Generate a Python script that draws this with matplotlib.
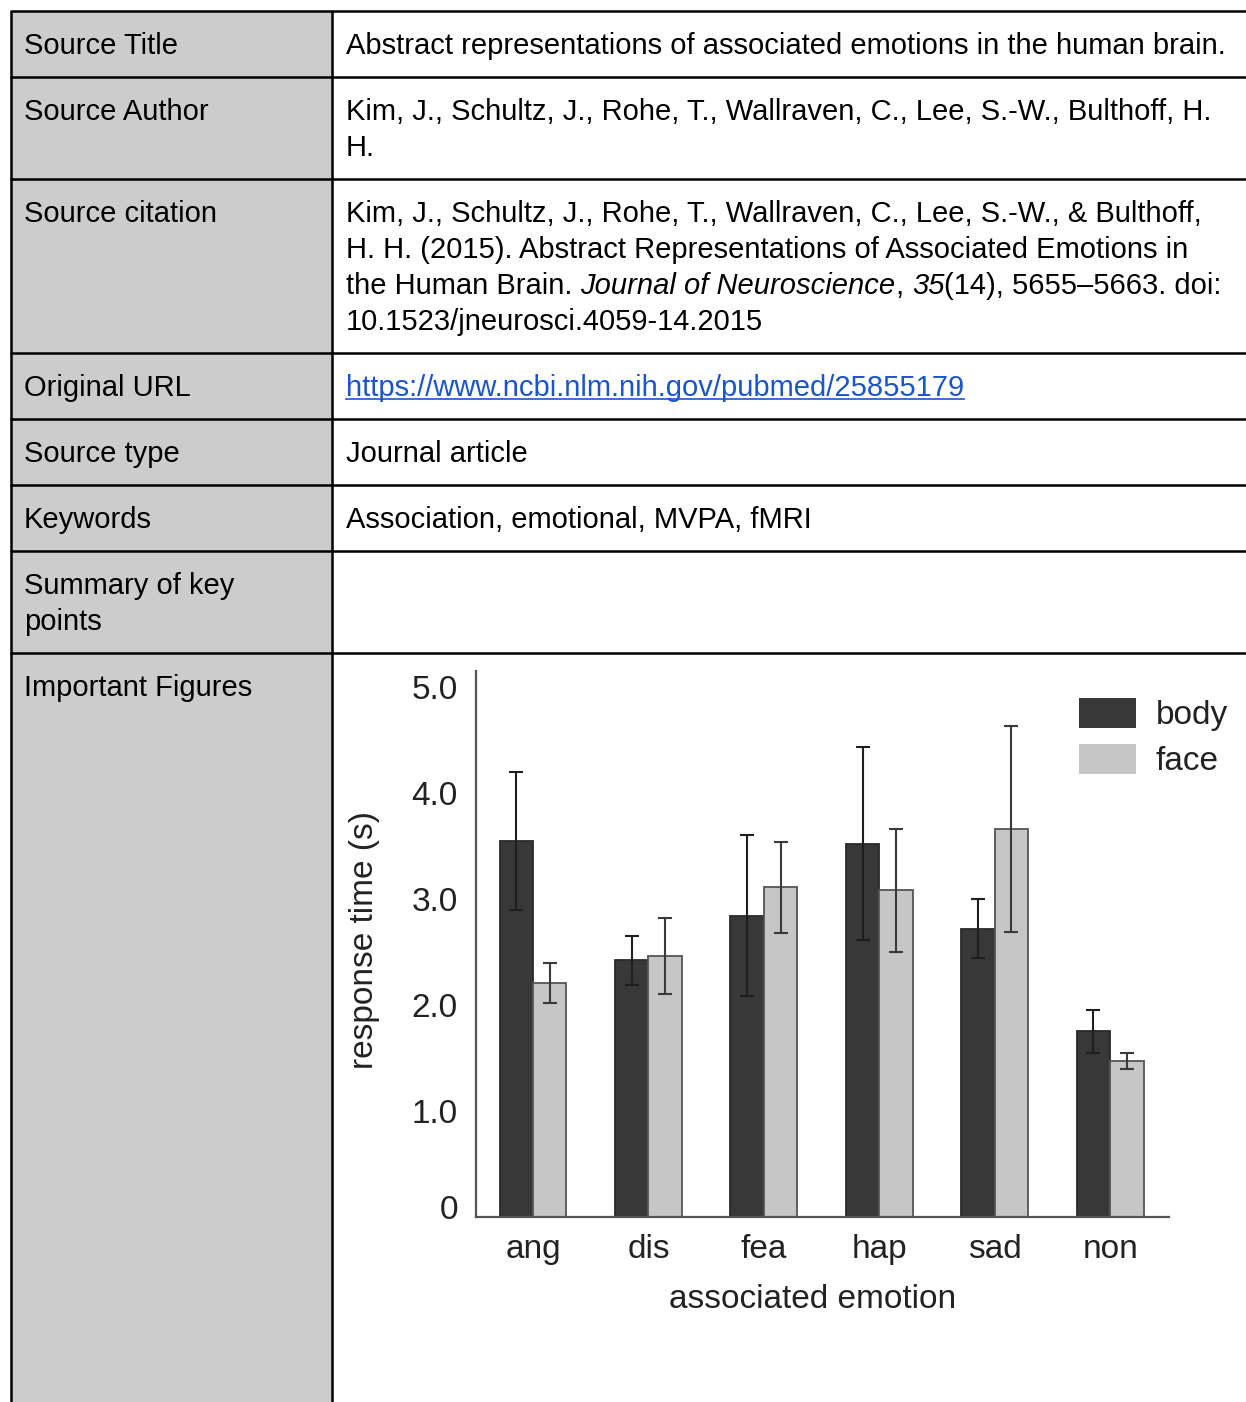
import matplotlib
matplotlib.use("Agg")
import matplotlib.pyplot as plt
import matplotlib.transforms as mtransforms
from matplotlib.patches import Rectangle, Patch
import numpy as np

plt.rcParams["font.family"] = ["Liberation Sans", "DejaVu Sans"]

# -- Chart data --------------------------------------------------------
emotions = ["ang", "dis", "fea", "hap", "sad", "non"]
body_rt = [3.55, 2.42, 2.84, 3.52, 2.72, 1.75]
face_rt = [2.21, 2.46, 3.11, 3.08, 3.66, 1.47]
body_err = [0.65, 0.23, 0.76, 0.91, 0.28, 0.20]
face_err = [0.19, 0.36, 0.43, 0.58, 0.97, 0.075]
y_ticks = [0, 1, 2, 3, 4, 5]
y_ticklabels = ["0", "1.0", "2.0", "3.0", "4.0", "5.0"]
series_names = ["body", "face"]

# -- Table content -----------------------------------------------------
row_labels = [
    ["Source Title"],
    ["Source Author"],
    ["Source citation"],
    ["Original URL"],
    ["Source type"],
    ["Keywords"],
    ["Summary of key", "points"],
    ["Important Figures"],
]
title_text = "Abstract representations of associated emotions in the human brain."
author_lines = ["Kim, J., Schultz, J., Rohe, T., Wallraven, C., Lee, S.-W., Bulthoff, H.", "H."]
citation_lines = [
    [("Kim, J., Schultz, J., Rohe, T., Wallraven, C., Lee, S.-W., & Bulthoff,", "normal")],
    [("H. H. (2015). Abstract Representations of Associated Emotions in", "normal")],
    [("the Human Brain. ", "normal"), ("Journal of Neuroscience", "italic"), (", ", "normal"),
     ("35", "italic"), ("(14), 5655\u20135663. doi:", "normal")],
    [("10.1523/jneurosci.4059-14.2015", "normal")],
]
url_text = "https://www.ncbi.nlm.nih.gov/pubmed/25855179"
type_text = "Journal article"
keywords_text = "Association, emotional, MVPA, fMRI"

# -- Layout (pixels) ---------------------------------------------------
W, H, DPI = 1246, 1402, 100
row_edges = [11, 77, 179, 353, 419, 485, 551, 653]
col_left, col_mid = 11, 332
line_gap = 36
base_off = 43
TABLE_FS = 21
CHART_FS = 24
TXT = "#222222"

fig = plt.figure(figsize=(W / DPI, H / DPI), dpi=DPI)
tab = fig.add_axes([0, 0, 1, 1])
tab.set_xlim(0, W)
tab.set_ylim(H, 0)
tab.axis("off")

tab.add_patch(Rectangle((col_left, row_edges[0]), col_mid - col_left, H - row_edges[0],
                        facecolor="#cccccc", edgecolor="none"))
for y in row_edges:
    tab.plot([col_left - 1, W + 5], [y, y], color="black", lw=1.8, solid_capstyle="butt")
for x in (col_left, col_mid):
    tab.plot([x, x], [row_edges[0], H + 5], color="black", lw=1.8, solid_capstyle="butt")

for top, lines in zip(row_edges, row_labels):
    for k, line in enumerate(lines):
        tab.text(24, top + base_off + k * line_gap, line, fontsize=TABLE_FS,
                 va="baseline", ha="left", color="black")

renderer = fig.canvas.get_renderer()


def put_line(x0, y, pieces, color="black"):
    x = x0
    for s, style in pieces:
        t = tab.text(x, y, s, fontsize=TABLE_FS, style=style, va="baseline",
                     ha="left", color=color)
        bb = t.get_window_extent(renderer)
        x += bb.width
    return x


rx = 346
put_line(rx, row_edges[0] + base_off, [(title_text, "normal")])
for k, line in enumerate(author_lines):
    put_line(rx, row_edges[1] + base_off + k * line_gap, [(line, "normal")])
for k, pieces in enumerate(citation_lines):
    put_line(rx, row_edges[2] + base_off + k * line_gap, pieces)
url_end = put_line(rx, row_edges[3] + base_off, [(url_text, "normal")], color="#1a55cc")
tab.plot([rx, url_end], [row_edges[3] + base_off + 3, row_edges[3] + base_off + 3],
         color="#1a55cc", lw=1.2)
put_line(rx, row_edges[4] + base_off, [(type_text, "normal")])
put_line(rx, row_edges[5] + base_off, [(keywords_text, "normal")])

# -- Embedded bar chart ------------------------------------------------
ax_l, ax_r, ax_b, ax_t = 476, 1169, 1217, 671
ax = fig.add_axes([ax_l / W, 1 - ax_b / H, (ax_r - ax_l) / W, (ax_b - ax_t) / H])
ax.patch.set_alpha(0)

x = np.arange(len(emotions))
w = 0.29
ax.bar(x - w / 2, body_rt, w, color="#383838", edgecolor="#2a2a2a", linewidth=1.3, zorder=2)
ax.bar(x + w / 2, face_rt, w, color="#c6c6c6", edgecolor="#555555", linewidth=1.3, zorder=2)
ax.errorbar(x - w / 2, body_rt, yerr=body_err, fmt="none", ecolor="#1e1e1e",
            elinewidth=1.5, capsize=5, capthick=1.5, zorder=3)
ax.errorbar(x + w / 2, face_rt, yerr=face_err, fmt="none", ecolor="#3a3a3a",
            elinewidth=1.5, capsize=5, capthick=1.5, zorder=3)

ax.set_xlim(-0.494, len(emotions) - 1 + 0.51)
ax.set_ylim(0, 5.15)
ax.set_xticks(x)
ax.set_xticklabels(emotions, fontsize=CHART_FS, color=TXT)
ax.set_yticks(y_ticks)
ax.set_yticklabels(y_ticklabels, fontsize=CHART_FS, color=TXT)
ax.tick_params(axis="x", length=0, pad=12)
ax.tick_params(axis="y", length=0, pad=13)
zero_lbl = ax.get_yticklabels()[0]
zero_lbl.set_transform(zero_lbl.get_transform() +
                       mtransforms.ScaledTranslation(0, 10 / DPI, fig.dpi_scale_trans))
for side in ("top", "right"):
    ax.spines[side].set_visible(False)
for side in ("left", "bottom"):
    ax.spines[side].set_color("#555555")
    ax.spines[side].set_linewidth(1.6)

tab.text(365, 940, "response time (s)", rotation=90, fontsize=CHART_FS, color=TXT,
         ha="center", va="center")
tab.text(813, 1300, "associated emotion", fontsize=CHART_FS, color=TXT,
         ha="center", va="center")

handles = [Patch(facecolor="#383838", edgecolor="none"),
           Patch(facecolor="#c6c6c6", edgecolor="none")]
ax.legend(handles, series_names, loc="upper left",
          bbox_to_anchor=(1079 / W, 1 - 698 / H), bbox_transform=fig.transFigure,
          frameon=False, fontsize=CHART_FS, labelcolor=TXT, borderpad=0,
          borderaxespad=0, handlelength=1.71, handleheight=1.0,
          handletextpad=0.6, labelspacing=0.38)

fig.savefig("out.png", dpi=DPI)
